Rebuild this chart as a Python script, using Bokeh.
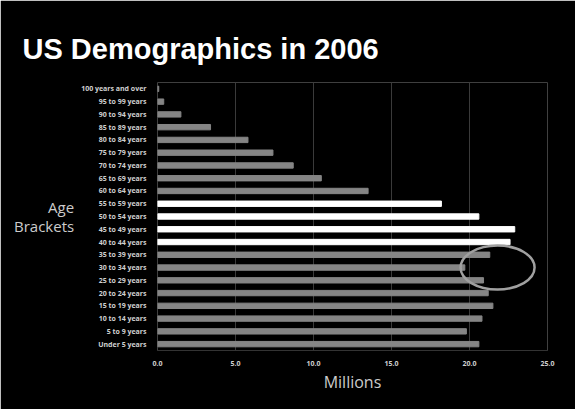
from bokeh.plotting import figure
from bokeh.models import FactorRange, Range1d, NumeralTickFormatter, ColumnDataSource
from bokeh.embed import file_html
from bokeh.resources import INLINE

categories = ["100 years and over", "95 to 99 years", "90 to 94 years", "85 to 89 years",
              "80 to 84 years", "75 to 79 years", "70 to 74 years", "65 to 69 years",
              "60 to 64 years", "55 to 59 years", "50 to 54 years", "45 to 49 years",
              "40 to 44 years", "35 to 39 years", "30 to 34 years", "25 to 29 years",
              "20 to 24 years", "15 to 19 years", "10 to 14 years", "5 to 9 years",
              "Under 5 years"]
values = [0.08, 0.4, 1.5, 3.4, 5.8, 7.4, 8.7, 10.5, 13.5, 18.2, 20.6, 22.9,
          22.6, 21.3, 19.7, 20.9, 21.2, 21.5, 20.8, 19.8, 20.6]
highlight = ["55 to 59 years", "50 to 54 years", "45 to 49 years", "40 to 44 years"]
x_ticks = [0, 5, 10, 15, 20, 25]

colors = ["#ffffff" if c in highlight else "#858585" for c in categories]
src = ColumnDataSource(dict(y=categories, right=values, color=colors))

p = figure(width=575, height=409, output_backend="svg", toolbar_location=None,
           y_range=FactorRange(factors=list(reversed(categories)), range_padding=0),
           x_range=Range1d(0, 25),
           min_border_left=157, min_border_right=28, min_border_top=82, min_border_bottom=59)
p.background_fill_color = "black"
p.border_fill_color = "black"
p.outline_line_color = None

p.title.text = "US Demographics in 2006"
p.title.text_font = "Liberation Sans"
p.title.text_font_style = "bold"
p.title.text_font_size = "29px"
p.title.text_color = "white"
p.title.align = "left"
p.title.offset = -135
p.title.standoff = 35

p.hbar(y="y", left=0, right="right", height=0.42, color="color", source=src)

p.ellipse(x=[21.8], y=["30 to 34 years"], width=74, height=44, width_units="screen",
          height_units="screen", fill_color=None, line_color="#a0a0a0", line_width=2.5)

p.xgrid.grid_line_color = "#3a3a3a"
p.ygrid.grid_line_color = None
p.xaxis.ticker = x_ticks
p.xaxis.formatter = NumeralTickFormatter(format="0.0")
for ax in (p.xaxis, p.yaxis):
    ax.axis_line_color = "#333333"
    ax.major_tick_line_color = None
    ax.minor_tick_line_color = None
    ax.major_label_text_color = "#d0d0d0"
    ax.major_label_text_font = "Open Sans"
    ax.major_label_text_font_size = "7px"
    ax.major_label_text_font_style = "bold"
    ax.axis_label_text_font = "Open Sans"
    ax.axis_label_text_font_style = "normal"
    ax.axis_label_text_font_size = "16px"
    ax.axis_label_text_color = "#cccccc"
p.yaxis.axis_line_color = None
p.xaxis.major_label_standoff = 4
p.yaxis.major_label_standoff = 5
p.xaxis.axis_label = "Millions"
p.xaxis.axis_label_standoff = 2
p.yaxis.axis_label = "Age\nBrackets"
p.yaxis.axis_label_orientation = "horizontal"
p.yaxis.axis_label_standoff = 4
p.yaxis.axis_label_text_font_size = "15px"
p.yaxis.axis_label_text_align = "center"
p.yaxis.axis_label_text_baseline = "alphabetic"
p.yaxis.axis_label_text_line_height = 0.95

open("out.html", "w").write(file_html(p, INLINE))
